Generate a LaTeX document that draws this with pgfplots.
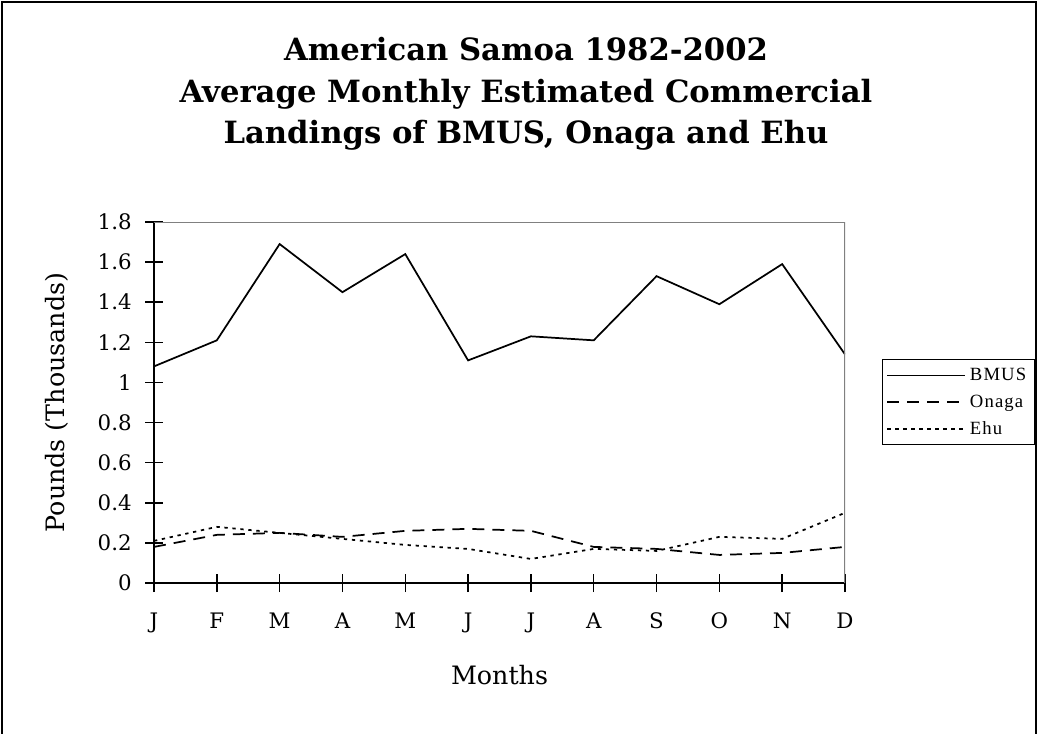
\documentclass[border=0pt]{standalone}
\usepackage{pgfplots}
\pgfplotsset{compat=1.18}
\usepackage{fontspec}
\setmainfont{DejaVu Serif}
\newfontfamily\legfont[LetterSpace=6]{Liberation Serif}

\begin{document}
\begin{tikzpicture}[x=0.75pt,y=-0.75pt]
\useasboundingbox (0,0) rectangle (1038,734);
\draw[line width=1.5pt] (2,734) -- (2,2) -- (1036,2) -- (1036,734);
\begin{scope}[every node/.style={anchor=base, font=\fontsize{23}{28}\selectfont\bfseries, inner sep=0pt}]
\node at (526,60.7) {American Samoa 1982-2002};
\node at (526,102.8) {Average Monthly Estimated Commercial};
\node at (526,143.9) {Landings of BMUS, Onaga and Ehu};
\end{scope}
\begin{axis}[
  at={(115.5pt,-437.25pt)}, anchor=south west,
  width=518.25pt, height=270.75pt, scale only axis,
  xmin=0, xmax=11, ymin=0, ymax=1.8,
  axis lines*=left,
  axis line style={line width=1.2pt,-},
  xtick={0,...,11},
  xticklabels={J,F,M,A,M,J,J,A,S,O,N,D},
  ytick={0,0.2,0.4,0.6,0.8,1,1.2,1.4,1.6,1.8},
  tick align=center,
  major tick length=13.5pt,
  tick style={line width=1.1pt, black},
  /pgf/number format/assume math mode=true,
  ticklabel style={font=\fontsize{16}{19}\selectfont},
  yticklabel style={xshift=-6.5pt},
  xticklabel style={yshift=-12pt},
  label style={font=\fontsize{19}{22}\selectfont},
  xlabel={Months},
  ylabel={Pounds (Thousands)},
  xlabel style={at={(axis description cs:0.5,-0.255)}, anchor=center},
  ylabel style={at={(axis description cs:-0.1404,0.5)}, anchor=center, rotate=0},
  legend style={at={(1.0535,0.6205)}, anchor=north west, draw=black, line width=0.6pt,
    font=\legfont\fontsize{14}{16}\selectfont, inner xsep=3pt, inner ysep=2pt,
    row sep=0pt,
    nodes={inner xsep=3pt, inner ysep=3pt, text height=11pt, text depth=3pt}},
  legend cell align=left,
  legend image code/.code={\draw[#1, line width=1.2pt] (0pt,0pt) -- (58.5pt,0pt);},
]
\addplot[black, line width=1.3pt] coordinates {
(0,1.08) (1,1.21) (2,1.69) (3,1.45) (4,1.64) (5,1.11) (6,1.23) (7,1.21) (8,1.53) (9,1.39) (10,1.59) (11,1.14)};
\addlegendentry{BMUS}
\addplot[black, line width=1.3pt, dash pattern=on 9pt off 6pt] coordinates {
(0,0.18) (1,0.24) (2,0.25) (3,0.23) (4,0.26) (5,0.27) (6,0.26) (7,0.18) (8,0.17) (9,0.14) (10,0.15) (11,0.18)};
\addlegendentry{Onaga}
\addplot[black, line width=1.3pt, dash pattern=on 2.5pt off 3.5pt] coordinates {
(0,0.21) (1,0.28) (2,0.25) (3,0.22) (4,0.19) (5,0.17) (6,0.12) (7,0.17) (8,0.16) (9,0.23) (10,0.22) (11,0.35)};
\addlegendentry{Ehu}
\draw[gray, line width=0.8pt] (rel axis cs:0,1) -- (rel axis cs:1,1) -- (rel axis cs:1,0);
\end{axis}
\end{tikzpicture}
\end{document}
